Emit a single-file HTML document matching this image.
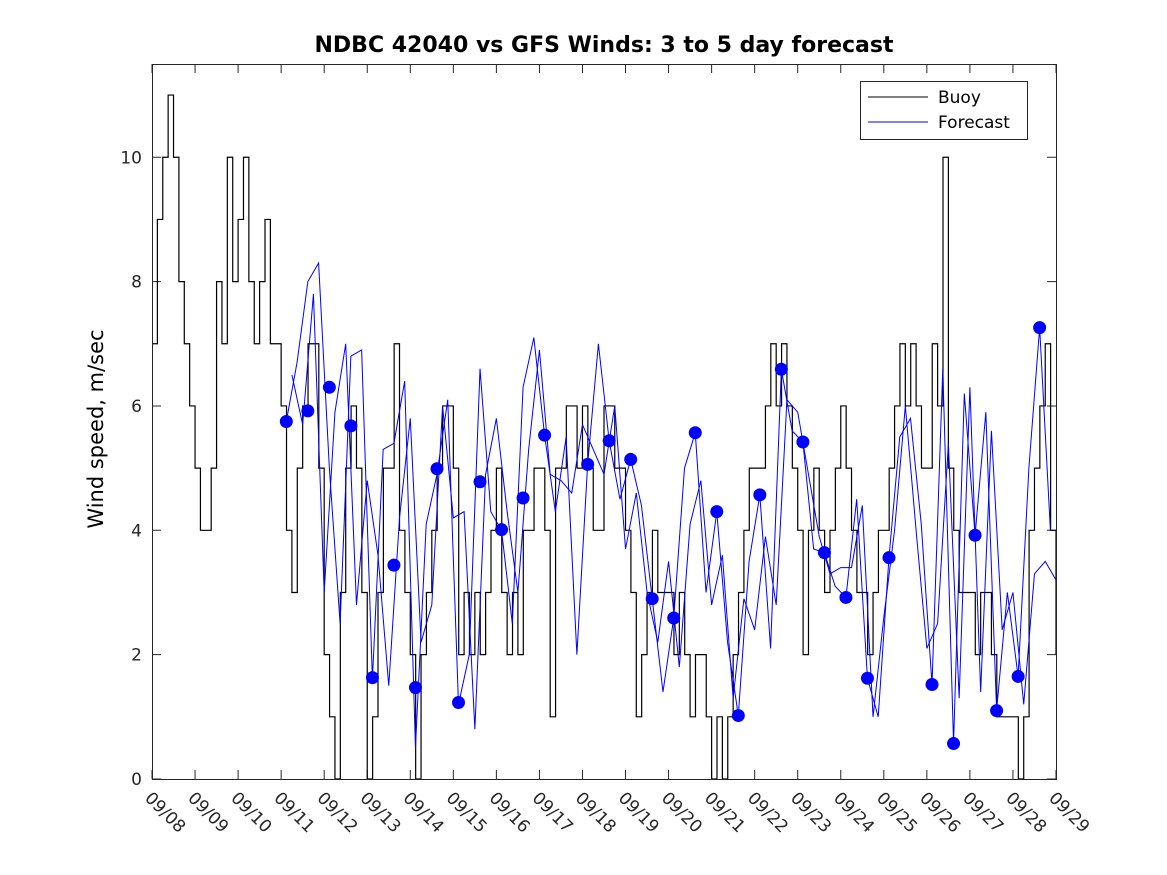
<!DOCTYPE html>
<html><head><meta charset="utf-8"><style>
body{margin:0;background:#fff}
svg{display:block;font-family:"DejaVu Sans","Liberation Sans",sans-serif}
</style></head><body>
<svg id="c" width="1167" height="875" viewBox="0 0 1167 875" xmlns="http://www.w3.org/2000/svg">
<rect width="1167" height="875" fill="#fff"/>
<text x="604" y="52" text-anchor="middle" font-size="22" font-weight="bold">NDBC 42040 vs GFS Winds: 3 to 5 day forecast</text>
<text transform="translate(103,429) rotate(-90)" text-anchor="middle" font-size="21">Wind speed, m/sec</text>
<g id="plot"></g>
<rect x="152.5" y="64.5" width="904" height="715" fill="none" stroke="#262626" stroke-width="1"/>
<g>
<rect x="860.5" y="81.5" width="167" height="58" fill="#fff" stroke="#262626"/>
<line x1="868" y1="97" x2="928" y2="97" stroke="#000"/>
<text x="938" y="103" font-size="17">Buoy</text>
<line x1="868" y1="122" x2="928" y2="122" stroke="#00f"/>
<text x="938" y="128" font-size="17">Forecast</text>
</g>
</svg>
<script>
const xTickLabels=["09/08","09/09","09/10","09/11","09/12","09/13","09/14","09/15","09/16","09/17","09/18","09/19","09/20","09/21","09/22","09/23","09/24","09/25","09/26","09/27","09/28","09/29"];
const yTicks=[0,2,4,6,8,10];
// buoy, 3-hourly from day 0
const buoy=[7,9,10,11,10,8,7,6, 5,4,4,5,8,7,10,8, 9,10,8,7,8,9,7,7, 6,4,3,5,6,7,7,5, 2,1,0,3,5,6,5,3, 0,1,3,5,5,7,4,3, 2,0,2,3,4,5,6,6, 5,2,3,2,3,2,3,4, 5,3,2,3,2,4,4,5, 5,4,1,5,5,6,6,5, 6,5,4,4,6,6,5,5, 4,3,1,2,3,4,3,3, 3,2,3,2,1,2,2,1, 0,1,0,1,2,3,4,5, 5,5,6,7,6,7,6,5, 4,2,4,5,4,3,4,5, 6,5,4,3,3,2,3,4, 4,5,6,7,6,7,6,5, 5,7,6,10,5,4,3,3, 3,2,3,3,2,1,1,1, 1,0,1,4,5,6,7,4, 2];
const buoyStart=0, buoyStep=0.125;
const dotDays=[3.12,3.62,4.12,4.62,5.12,5.62,6.12,6.62,7.12,7.62,8.12,8.62,9.12,10.12,10.62,11.12,11.62,12.12,12.62,13.12,13.62,14.12,14.62,15.12,15.62,16.12,16.62,17.12,18.12,18.62,19.12,19.62,20.12,20.62];
const dotVals=[5.75,5.92,6.3,5.68,1.63,3.44,1.47,4.99,1.23,4.78,4.01,4.52,5.53,5.06,5.44,5.14,2.9,2.59,5.57,4.3,1.02,4.57,6.59,5.42,3.64,2.92,1.62,3.56,1.52,0.57,3.92,1.1,1.65,7.26];
const fcA=[5.75,6.7,8.0,8.3,5.0,2.5,6.8,6.9,1.6,5.3,5.4,6.4,0.5,4.1,4.9,6.1,1.2,2.0,6.6,4.3,4.0,2.5,6.3,7.1,5.53,4.3,5.5,2.0,5.06,7.0,5.44,4.5,5.14,4.4,2.9,1.4,2.59,5.0,5.57,3.0,4.3,2.2,1.02,3.5,4.57,2.1,6.59,5.6,5.42,3.7,3.64,3.1,2.92,4.5,1.62,1.0,3.56,5.5,5.8,4.1,1.52,6.6,0.57,6.2,3.92,5.9,1.1,3.0,1.65,5.0,7.26,4.0];
const fcB=[6.5,5.7,7.8,3.0,5.9,7.0,2.8,4.8,3.6,1.5,4.2,5.8,2.2,2.8,6.0,4.2,4.3,0.8,4.9,5.8,4.3,3.0,5.3,6.9,4.9,4.8,4.6,5.7,5.3,4.9,6.0,3.7,4.6,3.0,2.2,3.5,1.8,4.1,4.8,2.8,3.6,1.3,2.9,2.4,3.9,2.8,6.1,5.9,4.9,3.9,3.3,3.4,3.4,4.4,1.0,2.6,4.0,6.0,4.0,2.1,2.5,5.4,1.3,6.3,1.4,5.6,2.4,3.0,1.2,3.3,3.5,3.2];
const fcAStart=3.12, fcBStart=3.25, fcStep=0.25;

const X0=152,X1=1056,Y0=779,Y1=64,DMAX=21,VMAX=11.5;
const sx=d=>X0+(X1-X0)*d/DMAX, sy=v=>Y0-(Y0-Y1)*v/VMAX;
const NS="http://www.w3.org/2000/svg";
const plot=document.getElementById('plot');
function mk(t,a){const e=document.createElementNS(NS,t);for(const k in a)e.setAttribute(k,a[k]);plot.appendChild(e);return e;}

yTicks.forEach(v=>{
 const y=sy(v);
 const l=mk('path',{d:`M${X0} ${y}h9M${X1} ${y}h-9`,stroke:'#262626'});
 
 
 const t=mk('text',{x:X0-10,y:y+6,'text-anchor':'end','font-size':17,fill:'#262626'});
 t.textContent=v;
 
 
});
xTickLabels.forEach((s,i)=>{
 const x=sx(i);
 const l=mk('path',{d:`M${x} ${Y0}v-9M${x} ${Y1}v9`,stroke:'#262626'});
 
 
 const t=mk('text',{transform:`translate(${x-8},${Y0+20}) rotate(45)`,'font-size':17,fill:'#262626'});
 t.textContent=s;
 
 
});
let d='';
buoy.forEach((v,i)=>{const x=sx(buoyStart+i*buoyStep),y=sy(v);d+=(i?`H${x}V${y}`:`M${x} ${y}`);});
d+=`H${X1}`;
const bl=mk('path',{d:d,fill:'none',stroke:'#000','stroke-width':1.2});


function fline(arr,start,name){
 const p=arr.map((v,i)=>(i?'L':'M')+sx(start+i*fcStep)+' '+sy(v)).join('');
 const e=mk('path',{d:p,fill:'none',stroke:'#00f','stroke-width':1});
 
 
}
fline(fcA,fcAStart,'forecast-line-a');
fline(fcB,fcBStart,'forecast-line-b');
dotDays.forEach((dd,i)=>{
 const c=mk('circle',{cx:sx(dd),cy:sy(dotVals[i]),r:6.5,fill:'#00f'});
 
 
});
</script>
</body></html>
